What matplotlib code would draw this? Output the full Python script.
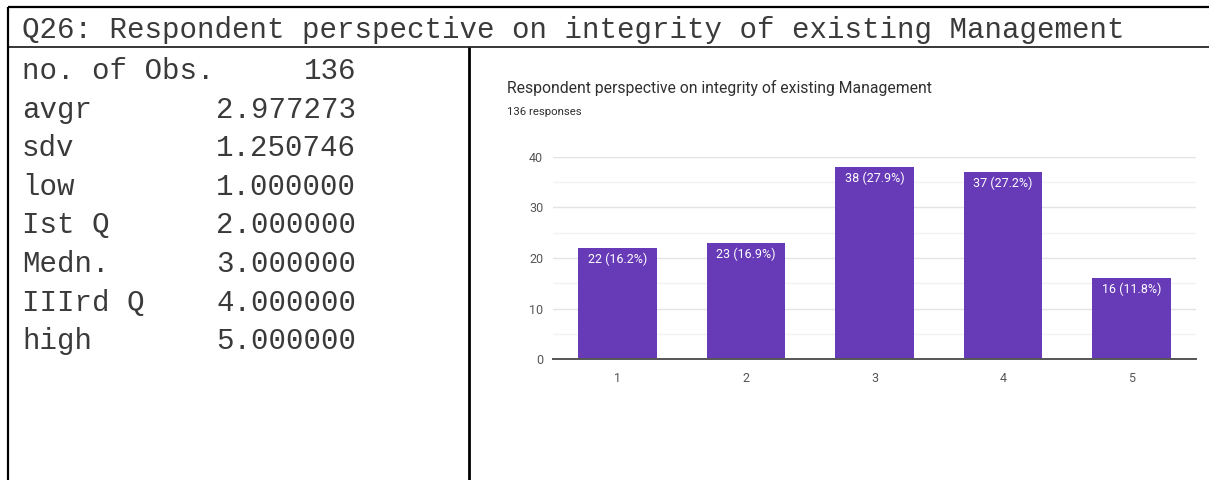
import matplotlib
matplotlib.use("Agg")
import matplotlib.pyplot as plt

# summary statistics for Q26
heading = "Q26: Respondent perspective on integrity of existing Management"
stat_names = ["no. of Obs.", "avgr", "sdv", "low", "Ist Q", "Medn.", "IIIrd Q", "high"]
stat_values = ["136", "2.977273", "1.250746", "1.000000", "2.000000",
               "3.000000", "4.000000", "5.000000"]

# response counts per rating
ratings = ["1", "2", "3", "4", "5"]
counts = [22, 23, 38, 37, 16]
percents = [16.2, 16.9, 27.9, 27.2, 11.8]
chart_title = "Respondent perspective on integrity of existing Management"
n_responses = 136

W, H = 1209, 480
fig = plt.figure(figsize=(W / 100, H / 100), dpi=100)
fig.patch.set_facecolor("white")

# background layer in pixel units for the table frame and text
bg = fig.add_axes([0, 0, 1, 1])
bg.set_xlim(0, W)
bg.set_ylim(H, 0)
bg.axis("off")

bg.plot([8, W], [7, 7], color="black", lw=1.6, solid_capstyle="butt")
bg.plot([8, 8], [7, H], color="black", lw=1.6, solid_capstyle="butt")
bg.plot([8, W], [47, 47], color="black", lw=1.1, solid_capstyle="butt")
bg.plot([469, 469], [47, H], color="black", lw=2.0, solid_capstyle="butt")

mono = "Liberation Mono"
txt_col = "#3a3a3a"
bg.text(22, 30, heading, family=mono, fontsize=21, color=txt_col,
        va="center", ha="left")
for i, (name, val) in enumerate(zip(stat_names, stat_values)):
    y = 71 + i * 38.6
    bg.text(22, y, name, family=mono, fontsize=21, color=txt_col,
            va="center", ha="left")
    bg.text(356, y, val, family=mono, fontsize=21, color=txt_col,
            va="center", ha="right")

# chart heading
bg.text(507, 88, chart_title, family="Roboto", fontsize=11.3, color="#303030",
        va="center", ha="left")
bg.text(507, 112, f"{n_responses} responses", family="Roboto", fontsize=8.2,
        color="#303030", va="center", ha="left")

# bar chart
ax = fig.add_axes([553 / W, 1 - 359 / H, (1196 - 553) / W, (359 - 157) / H])
x = list(range(1, len(counts) + 1))
bars = ax.bar(x, counts, width=0.61, color="#673AB7", zorder=3)
for xi, c, p in zip(x, counts, percents):
    ax.annotate(f"{c} ({p}%)", (xi, c), xytext=(0, -3.5), textcoords="offset points",
                ha="center", va="top", color="white", fontsize=9, family="Roboto",
                zorder=4)

ax.set_xlim(0.5, 5.5)
ax.set_ylim(0, 40)
ax.set_yticks([0, 10, 20, 30, 40])
ax.set_yticks([5, 15, 25, 35], minor=True)
ax.set_xticks(x)
ax.set_xticklabels(ratings)
ax.grid(axis="y", which="major", color="#e4e4e4", lw=1.0, zorder=0)
ax.grid(axis="y", which="minor", color="#f2f2f2", lw=1.0, zorder=0)
ax.tick_params(axis="both", which="both", length=0, labelsize=9,
               labelcolor="#555555")
ax.tick_params(axis="y", pad=7)
ax.tick_params(axis="x", pad=9)
for lab in ax.get_xticklabels() + ax.get_yticklabels():
    lab.set_family("Roboto")
for s in ["top", "right", "left"]:
    ax.spines[s].set_visible(False)
ax.spines["bottom"].set_color("#555555")
ax.spines["bottom"].set_linewidth(1.4)
ax.spines["bottom"].set_zorder(5)

fig.savefig("out.png", dpi=100, facecolor="white")
